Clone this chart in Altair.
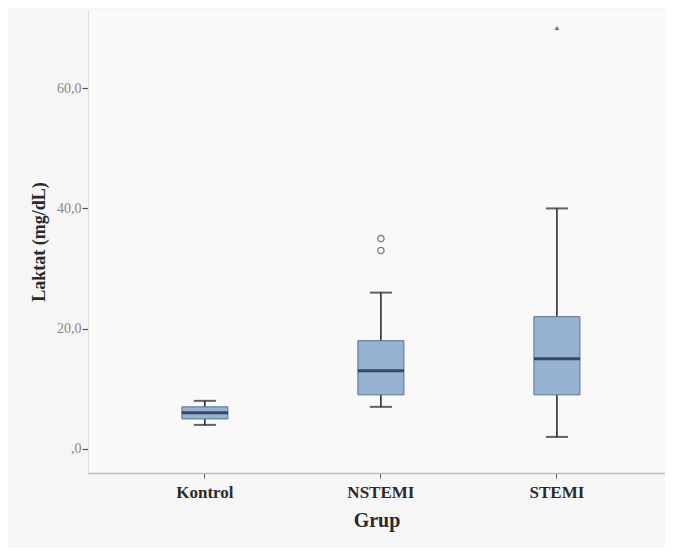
import altair as alt
import pandas as pd

groups = ["Kontrol", "NSTEMI", "STEMI"]
whisker_low = [4, 7, 2]
q1 = [5, 9, 9]
median = [6, 13, 15]
q3 = [7, 18, 22]
whisker_high = [8, 26, 40]

outlier_groups = ["NSTEMI", "NSTEMI"]
outlier_values = [33, 35]
extreme_groups = ["STEMI"]
extreme_values = [70]

y_ticks = [0, 20, 40, 60]

box_df = pd.DataFrame({
    "Grup": groups, "lo": whisker_low, "q1": q1, "med": median,
    "q3": q3, "hi": whisker_high,
})
out_df = pd.DataFrame({"Grup": outlier_groups, "v": outlier_values})
ext_df = pd.DataFrame({"Grup": extreme_groups, "v": extreme_values})

FONT = "Liberation Serif"

xenc = alt.X(
    "Grup:N", sort=groups,
    scale=alt.Scale(paddingInner=0, paddingOuter=0.139, align=0.59),
    axis=alt.Axis(
        title="Grup", labelAngle=0, labelFont=FONT, labelFontSize=17,
        labelColor="#2a2a2a", labelFontWeight="bold", titleFont=FONT,
        titleFontSize=20, titleFontWeight="bold", titleColor="#2a2a2a",
        titlePadding=10, labelPadding=6, tickColor="#555555", tickSize=5,
        domainColor="#bbbbbb", domainWidth=1.5,
    ),
)
yscale = alt.Scale(domain=[-4, 73], nice=False, zero=False)
yaxis = alt.Axis(
    title="Laktat (mg/dL)", values=y_ticks,
    labelExpr="datum.value == 0 ? ',0' : replace(format(datum.value, '.1f'), '.', ',')",
    labelFont=FONT, labelFontSize=14, labelColor="#888888", labelPadding=1,
    tickColor="#555555", tickSize=6, tickWidth=1.2,
    titleFont=FONT, titleFontSize=18, titleFontWeight="bold", titleColor="#2a2a2a",
    titlePadding=8, domainColor="#dddddd", grid=False,
)

base = alt.Chart(box_df)

whisker = base.mark_rule(color="#222222", strokeWidth=1.5).encode(
    x=xenc, y=alt.Y("lo:Q", scale=yscale, axis=yaxis), y2="hi:Q"
)
caps_hi = base.mark_tick(color="#222222", size=22, thickness=2).encode(
    x=xenc, y=alt.Y("hi:Q", scale=yscale)
)
caps_lo = base.mark_tick(color="#222222", size=22, thickness=2).encode(
    x=xenc, y=alt.Y("lo:Q", scale=yscale)
)
box = base.mark_bar(size=46, color="#97b3d3", stroke="#5c6f86", strokeWidth=1).encode(
    x=xenc, y=alt.Y("q1:Q", scale=yscale), y2="q3:Q"
)
med = base.mark_tick(color="#0b1b3f", size=46, thickness=3).encode(
    x=xenc, y=alt.Y("med:Q", scale=yscale)
)
outs = alt.Chart(out_df).mark_point(
    shape="circle", filled=False, color="#444444", size=40, strokeWidth=1.3
).encode(x=xenc, y=alt.Y("v:Q", scale=yscale))
ext = alt.Chart(ext_df).mark_point(
    shape="triangle-up", filled=True, color="#333333", size=22
).encode(x=xenc, y=alt.Y("v:Q", scale=yscale))

chart = alt.layer(whisker, caps_hi, caps_lo, box, med, outs, ext).properties(
    width=577, height=463,
    autosize=alt.AutoSizeParams(type="none"),
    padding={"left": 80, "top": 2, "right": 0, "bottom": 75},
    background="#f6f6f6",
).configure_view(stroke=None, fill="#f9f9f9")

chart.save("out.html", embed_options={"renderer": "svg", "actions": False})
